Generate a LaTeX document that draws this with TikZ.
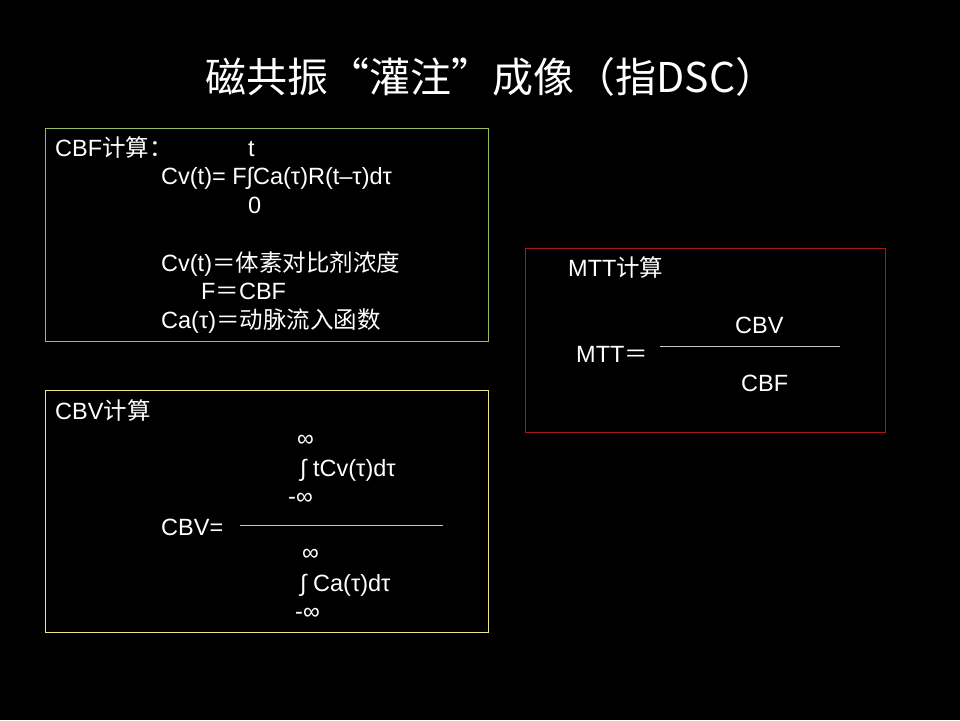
\documentclass[tikz,border=0pt]{standalone}
\usepackage{fontspec}
\setmainfont{Liberation Sans}
\newfontfamily\cjk{Noto Sans CJK SC}
\definecolor{boxgreen}{RGB}{155,187,89}
\definecolor{boxyellow}{RGB}{235,235,130}
\definecolor{boxred}{RGB}{170,20,20}
\definecolor{rulegray}{RGB}{200,200,200}
\begin{document}
\begin{tikzpicture}[x=1pt,y=-1pt,
  txt/.style={anchor=base west,inner sep=0pt,text=white,font=\fontsize{23.5}{28}\selectfont},
  frame/.style={line width=1pt},
  fracline/.style={draw=rulegray,line width=1pt}]
\fill[black] (0,0) rectangle (960,720);
\useasboundingbox (0,0) rectangle (960,720);
% title
\node[text=white,inner sep=0pt,anchor=base,font=\cjk\fontsize{41}{47}\selectfont] (title) at (491,92) {磁共振“灌注”成像（指DSC）};
% boxes
\draw[frame,draw=boxgreen] (45,128) rectangle (488,341);
\draw[frame,draw=boxyellow] (45,390) rectangle (488,632);
\draw[frame,draw=boxred] (525,248) rectangle (885,432);
% CBF box
\node[txt] (cbf1) at (55,156) {CBF{\cjk 计算：}};
\node[txt] (cbft) at (248,156) {t};
\node[txt] (cbf2) at (161,184) {Cv(t)= F∫Ca(τ)R(t–τ)dτ};
\node[txt] (cbf0) at (248,213) {0};
\node[txt] (cbf3) at (161,271) {Cv(t){\cjk ＝体素对比剂浓度}};
\node[txt] (cbf4) at (201,299) {F{\cjk ＝}CBF};
\node[txt] (cbf5) at (161,328) {Ca(τ){\cjk ＝动脉流入函数}};
% CBV box
\node[txt] (cbv1) at (55,419) {CBV{\cjk 计算}};
\node[txt] (inf1) at (297,446) {∞};
\node[txt] (int1) at (300,476) {∫ tCv(τ)dτ};
\node[txt] (minf1) at (288,504) {-∞};
\node[txt] (cbveq) at (161,535) {CBV=};
\coordinate (l1a) at (240,525);
\coordinate (l1b) at (443,525);
\draw[fracline] (l1a) -- (l1b);
\node[txt] (inf2) at (302,560) {∞};
\node[txt] (int2) at (300,591) {∫ Ca(τ)dτ};
\node[txt] (minf2) at (295,619) {-∞};
% MTT box
\node[txt] (mtt1) at (568,276) {MTT{\cjk 计算}};
\node[txt] (mttn) at (735,333) {CBV};
\node[txt] (mtteq) at (576,362) {MTT{\cjk ＝}};
\coordinate (l2a) at (660,346);
\coordinate (l2b) at (840,346);
\draw[fracline] (l2a) -- (l2b);
\node[txt] (mttd) at (741,391) {CBF};
\end{tikzpicture}
\end{document}
